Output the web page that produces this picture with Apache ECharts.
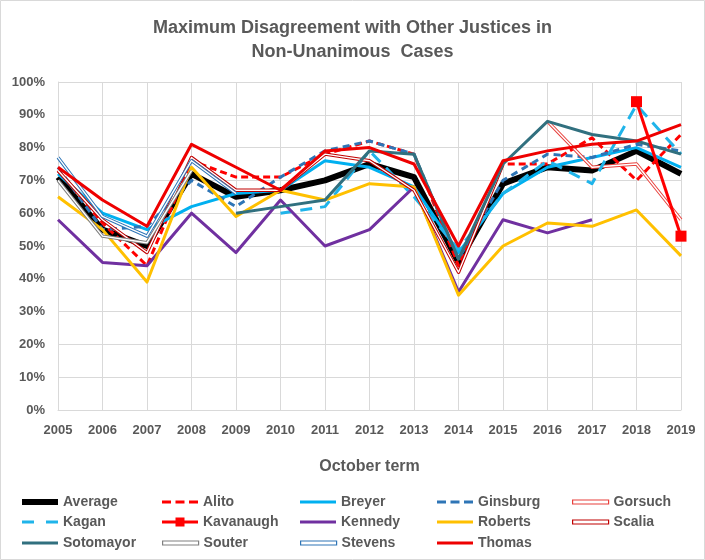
<!DOCTYPE html>
<html>
<head>
<meta charset="utf-8">
<script src="https://cdn.jsdelivr.net/npm/echarts@6/dist/echarts.min.js"></script>
<style>
html,body{margin:0;padding:0;background:#fff;}
#chart{width:705px;height:560px;}
</style>
</head>
<body>
<div id="chart"></div>
<script>
var years = ['2005','2006','2007','2008','2009','2010','2011','2012','2013','2014','2015','2016','2017','2018','2019'];
var yTicks = [0,10,20,30,40,50,60,70,80,90,100];
var average   = [71,55,50,72,65,67,70,75,71,45,69,74,73,79,72];
var alito     = [73,57,44,76,71,71,78,82,78,44,75,75,83,70,84];
var breyer    = [72,60,55,62,66,67,76,74,68,48,66,74,77,80,74];
var ginsburg  = [74,55,56,70,62,71,79,82,78,46,70,78,77,81,79];
var gorsuch   = [null,null,null,null,null,null,null,null,null,null,null,88,74,75,58];
var kagan     = [null,null,null,null,null,60,62,79,65,49,66,76,69,93,78];
var kavanaugh = [null,null,null,null,null,null,null,null,null,null,null,null,null,94,53];
var kennedy   = [58,45,44,60,48,64,50,55,68,36,58,54,58,null,null];
var roberts   = [65,55,39,74,59,67,64,69,68,35,50,57,56,61,47];
var scalia    = [73,58,48,77,67,67,78,76,67,42,75,null,null,null,null];
var sotomayor = [null,null,null,null,60,62,64,79,78,46,75,88,84,82,78];
var souter    = [70,53,51,73,null,null,null,null,null,null,null,null,null,null,null];
var stevens   = [77,59,53,76,66,null,null,null,null,null,null,null,null,null,null];
var thomas    = [74,64,56,81,74,67,79,80,75,50,76,79,81,82,87];

var FONT = 'Liberation Sans';
var TXT = '#595959';

function solid(name, data, color, width, dash) {
  return {
    name: name, type: 'line', data: data, symbol: 'none', connectNulls: false,
    lineStyle: {color: color, width: width, type: dash || 'solid', cap: 'butt', join: 'round'},
    itemStyle: {color: color}, emphasis: {disabled: true}
  };
}
function dbl(name, data, color) {
  return [
    solid(name, data, color, 3.4),
    solid(name + ' ', data, '#ffffff', 1.4)
  ];
}

var series = [];
series.push(solid('Average', average, '#000000', 6));
series.push(solid('Alito', alito, '#ff0000', 3, [7, 4]));
series.push(solid('Breyer', breyer, '#00b0f0', 3));
series.push(solid('Ginsburg', ginsburg, '#2e75b6', 3, [7, 5]));
series = series.concat(dbl('Gorsuch', gorsuch, '#e8403c'));
series.push(solid('Kagan', kagan, '#1fb4ea', 3, [12, 8]));
series.push(solid('Kennedy', kennedy, '#7030a0', 3));
series.push(solid('Roberts', roberts, '#ffc000', 3));
series = series.concat(dbl('Scalia', scalia, '#c00000'));
series.push(solid('Sotomayor', sotomayor, '#31707f', 3));
series = series.concat(dbl('Souter', souter, '#808080'));
series = series.concat(dbl('Stevens', stevens, '#2e75b6'));
series.push(solid('Thomas', thomas, '#ee0000', 3));
var kav = solid('Kavanaugh', kavanaugh, '#ff0000', 3);
kav.symbol = 'rect'; kav.symbolSize = 11; kav.showSymbol = true;
series.push(kav);

var P_THICK = 'path://M0,0h36v6h-36z';
var P_SOLID = 'path://M0,0h36v3h-36z';
var P_DASH3 = 'path://M0,0h9v3h-9z M13.5,0h9v3h-9z M27,0h9v3h-9z';
var P_DASH2 = 'path://M0,0h12v3h-12z M24,0h12v3h-12z';
var P_DBL = 'path://M0,0h36v4h-36z';
var P_SQ = 'path://M0,3h13.5v-3h9v3h13.5v3h-13.5v3h-9v-3h-13.5z';

function li(name, icon, color, isDbl) {
  return {
    name: name, icon: icon,
    itemStyle: isDbl ? {color: '#ffffff', borderColor: color, borderWidth: 1.2} : {color: color, borderWidth: 0}
  };
}
var rows = [
  [li('Average', P_THICK, '#000000'), li('Alito', P_DASH3, '#ff0000'), li('Breyer', P_SOLID, '#00b0f0'), li('Ginsburg', P_DASH3, '#2e75b6'), li('Gorsuch', P_DBL, '#e8403c', true)],
  [li('Kagan', P_DASH2, '#1fb4ea'), li('Kavanaugh', P_SQ, '#ff0000'), li('Kennedy', P_SOLID, '#7030a0'), li('Roberts', P_SOLID, '#ffc000'), li('Scalia', P_DBL, '#c00000', true)],
  [li('Sotomayor', P_SOLID, '#31707f'), li('Souter', P_DBL, '#808080', true), li('Stevens', P_DBL, '#2e75b6', true), li('Thomas', P_SOLID, '#ee0000')]
];
var rowTops = [495, 515, 536];
var colLefts = [22, 162, 300, 437, 572];
var legends = [];
rows.forEach(function (r, i) {
  r.forEach(function (item, j) {
    legends.push({
      data: [item], left: colLefts[j], top: rowTops[i], orient: 'horizontal',
      itemWidth: 36, itemHeight: 14, itemGap: 0, itemTextGap: 1,
      selectedMode: false, symbolKeepAspect: true, padding: 0,
      textStyle: {fontFamily: FONT, fontWeight: 'bold', fontSize: 14, color: TXT}
    });
  });
});

var chart = echarts.init(document.getElementById('chart'));
chart.setOption({
  animation: false,
  backgroundColor: '#ffffff',
  title: {
    text: 'Maximum Disagreement with Other Justices in\nNon-Unanimous  Cases',
    left: 'center', top: 11,
    textStyle: {fontFamily: FONT, fontWeight: 'bold', fontSize: 18, color: TXT, lineHeight: 24}
  },
  graphic: [{
    type: 'rect', shape: {x: 0.5, y: 0.5, width: 704, height: 559},
    style: {fill: 'none', stroke: '#d9d9d9', lineWidth: 1}, silent: true, z: -1
  }],
  legend: legends,
  grid: {left: 58, right: 24, top: 82, bottom: 150, containLabel: false},
  xAxis: {
    type: 'category', data: years, boundaryGap: false,
    name: 'October term', nameLocation: 'middle', nameGap: 49,
    nameTextStyle: {fontFamily: FONT, fontWeight: 'bold', fontSize: 16, color: TXT},
    axisLine: {show: true, lineStyle: {color: '#d9d9d9', width: 1}},
    axisTick: {show: false},
    axisLabel: {fontFamily: FONT, fontWeight: 'bold', fontSize: 13, color: TXT, margin: 14},
    splitLine: {show: true, lineStyle: {color: '#d9d9d9', width: 1}}
  },
  yAxis: {
    type: 'value', min: yTicks[0], max: yTicks[yTicks.length - 1], interval: 10,
    axisLine: {show: true, lineStyle: {color: '#d9d9d9', width: 1}},
    axisTick: {show: false},
    axisLabel: {fontFamily: FONT, fontWeight: 'bold', fontSize: 13, color: TXT, margin: 13, formatter: '{value}%'},
    splitLine: {show: true, lineStyle: {color: '#d9d9d9', width: 1}}
  },
  series: series
});
</script>
</body>
</html>
